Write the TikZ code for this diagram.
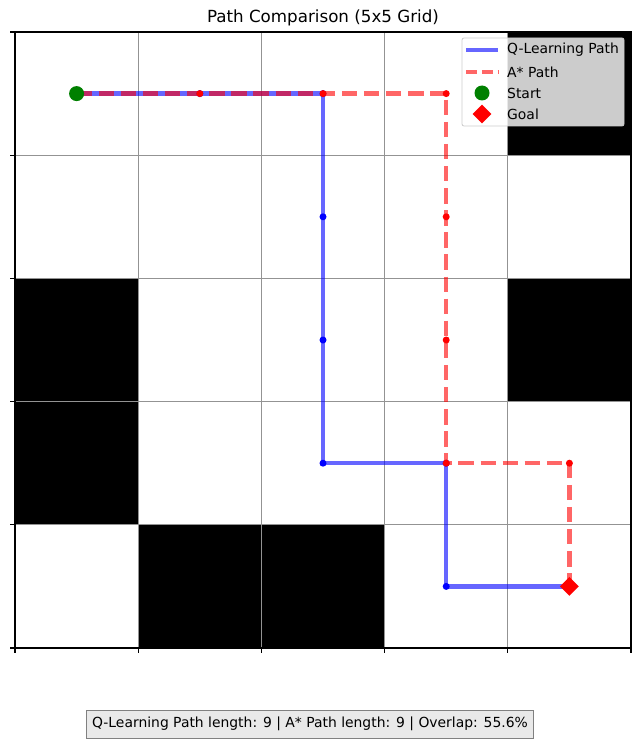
\documentclass[tikz,border=0pt]{standalone}
\usepackage{fontspec}
\setmainfont{DejaVu Sans}
\usetikzlibrary{shapes.geometric}
\definecolor{startgreen}{HTML}{008000}
\definecolor{legedge}{HTML}{CCCCCC}
\definecolor{boxfill}{HTML}{E9E9E9}
\definecolor{boxedge}{HTML}{808080}
\begin{document}
\begin{tikzpicture}[x=1pt,y=-1pt,
  gridline/.style={draw=gray!85, line width=0.7pt},
  frameline/.style={draw=black, line width=1.1pt},
  qline/.style={draw=blue, opacity=0.6, line width=4.2pt, line join=miter},
  aline/.style={draw=red, opacity=0.6, line width=4.2pt, dash pattern=on 15.4pt off 6.7pt, line join=miter},
  qdot/.style={circle, fill=blue, inner sep=0pt, minimum size=7pt},
  adot/.style={circle, fill=red, inner sep=0pt, minimum size=7pt},
  startmark/.style={circle, fill=startgreen, inner sep=0pt, minimum size=15pt},
  goalmark/.style={diamond, fill=red, inner sep=0pt, minimum width=19pt, minimum height=19pt},
  legtext/.style={anchor=west, inner sep=0pt, font=\fontsize{13.9}{16}\selectfont},
  titletext/.style={font=\fontsize{16.7}{20}\selectfont},
  infobox/.style={draw=boxedge, fill=boxfill, line width=1pt, inner xsep=6pt, minimum height=28pt, font=\fontsize{13.9}{16}\selectfont}
]
\useasboundingbox (0,0) rectangle (640,741);
\fill[white] (0,0) rectangle (640,741);

\begin{scope}[shift={(15,32)}, x=123.2pt, y=-123.2pt]
  % obstacles
  \fill[black] (4,0) rectangle (5,1);
  \fill[black] (0,2) rectangle (1,3);
  \fill[black] (4,2) rectangle (5,3);
  \fill[black] (0,3) rectangle (1,4);
  \fill[black] (1,4) rectangle (2,5);
  \fill[black] (2,4) rectangle (3,5);
  % grid
  \foreach \i in {1,...,4} {
    \draw[gridline] (\i,0) -- (\i,5);
    \draw[gridline] (0,\i) -- (5,\i);
  }
  \draw[frameline] (0,0) rectangle (5,5);
  % ticks
  \foreach \i in {0,...,5} {
    \draw[line width=1.1pt] (\i,5) -- ++(0pt,-5pt);
    \draw[line width=1.1pt] (0,\i) -- ++(-5pt,0pt);
  }
  % path points
  \coordinate (q1) at (0.5,0.5);
  \coordinate (q2) at (1.5,0.5);
  \coordinate (q3) at (2.5,0.5);
  \coordinate (q4) at (2.5,1.5);
  \coordinate (q5) at (2.5,2.5);
  \coordinate (q6) at (2.5,3.5);
  \coordinate (q7) at (3.5,3.5);
  \coordinate (q8) at (3.5,4.5);
  \coordinate (q9) at (4.5,4.5);
  \coordinate (a4) at (3.5,0.5);
  \coordinate (a5) at (3.5,1.5);
  \coordinate (a6) at (3.5,2.5);
  \coordinate (a8) at (4.5,3.5);
\end{scope}

% Q-learning path
\draw[qline] (q1) -- (q2) -- (q3) -- (q4) -- (q5) -- (q6) -- (q7) -- (q8) -- (q9);
\foreach \p in {q1,q2,q3,q4,q5,q6,q7,q8,q9} { \node[qdot] (d\p) at (\p) {}; }
% A* path
\draw[aline] (q1) -- (q2) -- (q3) -- (a4) -- (a5) -- (a6) -- (q7) -- (a8) -- (q9);
\foreach \p in {q1,q2,q3,a4,a5,a6,q7,a8,q9} { \node[adot] (e\p) at (\p) {}; }
% start and goal
\node[startmark] (start) at (q1) {};
\node[goalmark] (goal) at (q9) {};

% title
\node[titletext] (title) at (323,18) {Path Comparison (5x5 Grid)};

% legend
\draw[draw=legedge, fill=white, fill opacity=0.8, rounded corners=2pt, line width=0.8pt] (462,38) rectangle (624,126);
\coordinate (l1a) at (466,50); \coordinate (l1b) at (498,50);
\coordinate (l2a) at (466,72); \coordinate (l2b) at (498,72);
\draw[qline] (l1a) -- (l1b);
\draw[draw=red, opacity=0.6, line width=4.2pt, dash pattern=on 11pt off 4.8pt] (l2a) -- (l2b);
\node[startmark] (legstart) at (482,93) {};
\node[goalmark] (leggoal) at (482,114) {};
\node[legtext] (t1) at (507,50) {Q-Learning Path};
\node[legtext] (t2) at (507,72) {A* Path};
\node[legtext] (t3) at (507,93) {Start};
\node[legtext] (t4) at (507,114) {Goal};

% info box
\node[infobox] (info) at (310,724) {Q-Learning Path length: 9 | A* Path length: 9 | Overlap: 55.6\%};
\end{tikzpicture}
\end{document}
